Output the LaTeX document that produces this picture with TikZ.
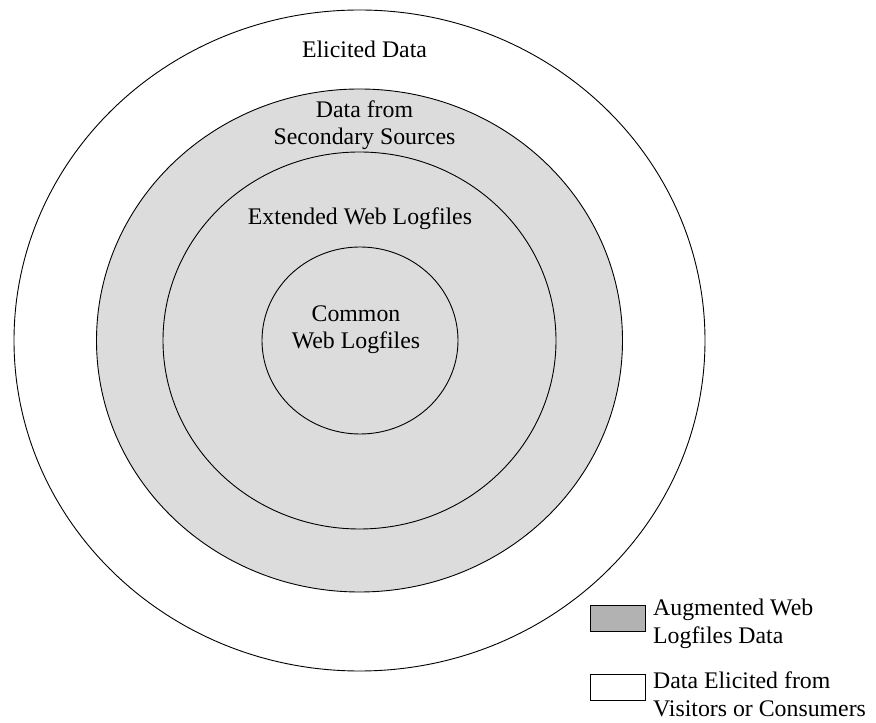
\documentclass[tikz,border=0pt]{standalone}
\usepackage{fontspec}
\setmainfont{Liberation Serif}
\usetikzlibrary{shapes.geometric}
\definecolor{ringgray}{RGB}{220,220,220}
\definecolor{keygray}{RGB}{178,178,178}
\begin{document}
\begin{tikzpicture}[x=1pt,y=1pt,
  ring/.style={ellipse, draw=black, line width=0.9pt, inner sep=0pt},
  lbl/.style={font=\fontsize{23.8}{27.5}\selectfont, align=center, inner sep=0pt},
  keytext/.style={font=\fontsize{23.8}{28.5}\selectfont, align=left, anchor=west, inner sep=0pt},
  keybox/.style={draw=black, line width=0.9pt, minimum width=55pt, minimum height=26pt, inner sep=0pt}]
\useasboundingbox (0,0) rectangle (876,723);
\node[ring, fill=white, minimum width=691pt, minimum height=661pt] (outer) at (359.5,382.5) {};
\node[ring, fill=ringgray, minimum width=526pt, minimum height=503pt] (second) at (359.5,382.5) {};
\node[ring, fill=ringgray, minimum width=393pt, minimum height=377pt] (ext) at (359.5,382.5) {};
\node[ring, fill=ringgray, minimum width=196pt, minimum height=187pt] (common) at (360,382.5) {};
\node[lbl] (telicited) at (364.5,674) {Elicited Data};
\node[lbl] (tsecondary) at (364.5,597.8) {Data from\\Secondary Sources};
\node[lbl] (textended) at (360,504.5) {Extended Web Logfiles};
\node[lbl] (tcommon) at (356,393.4) {Common\\Web Logfiles};
\node[keybox, fill=keygray] (key1) at (617.5,105) {};
\node[keybox, fill=white] (key2) at (617.5,36) {};
\node[keytext] (tkey1) at (653,99.3) {Augmented Web\\Logfiles Data};
\node[keytext] (tkey2) at (653,28.9) {Data Elicited from\\Visitors or Consumers};
\end{tikzpicture}
\end{document}
